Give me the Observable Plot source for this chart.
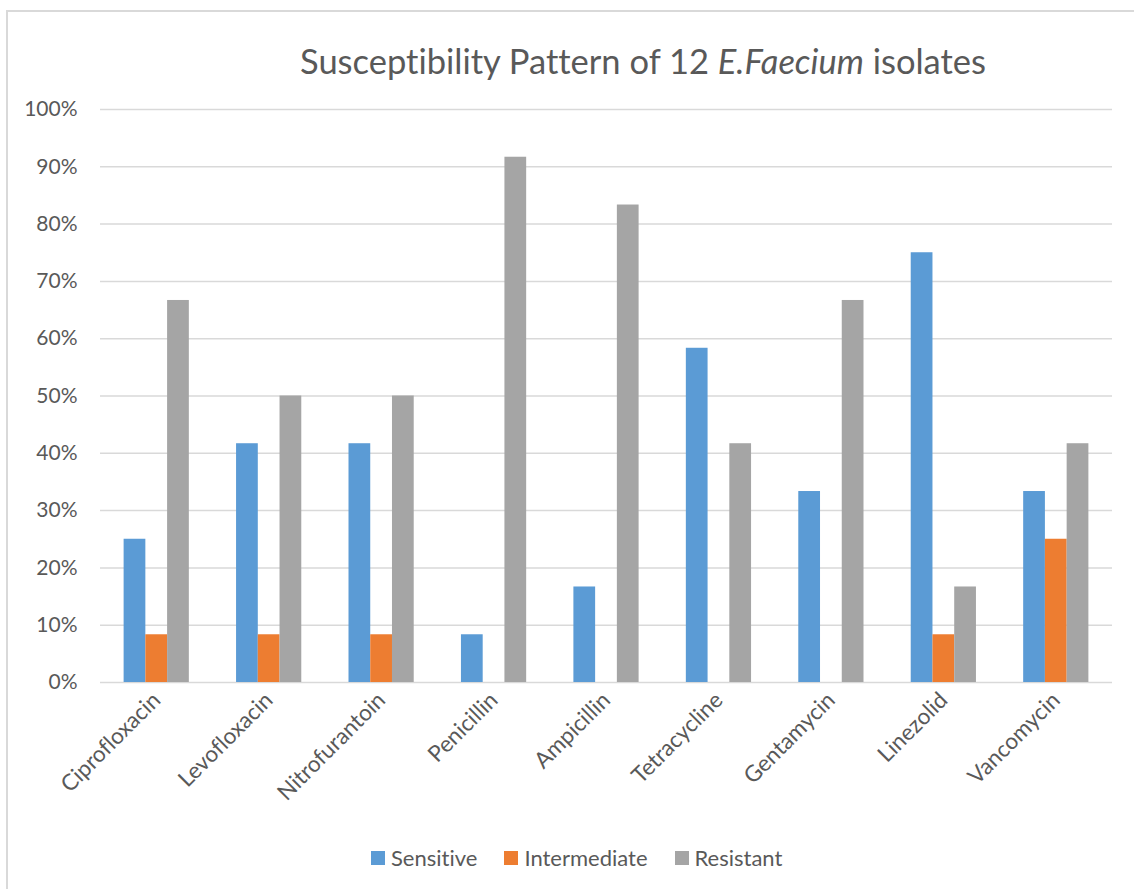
<!DOCTYPE html>
<html>
<head>
<meta charset="utf-8">
<script src="https://cdn.jsdelivr.net/npm/d3@7"></script>
<script src="https://cdn.jsdelivr.net/npm/@observablehq/plot@0.6"></script>
<style>
  html, body { margin: 0; padding: 0; background: #fff; overflow: hidden; }
  #chart { position: relative; width: 1134px; height: 889px; font-family: Lato, "Open Sans", sans-serif; color: #595959; font-variant-ligatures: none; }
  #frame { position: absolute; left: 6px; top: 10px; width: 1200px; height: 950px; border-left: 2px solid #d9d9d9; border-top: 2px solid #d9d9d9; }
  #title { position: absolute; left: 0; width: 1134px; top: 39px; padding-left: 152px; box-sizing: border-box; text-align: center; font-size: 34.5px; line-height: 44px; white-space: nowrap; }
  .layer { position: absolute; left: 0; top: 0; font-variant-ligatures: none; }
  .layer g[aria-label^="x-axis"] { font-size: 22.5px; }
  #legend { position: absolute; left: 371px; top: 844px; display: flex; align-items: center; font-size: 22px; white-space: nowrap; }
  .item { display: flex; align-items: center; margin-right: 27px; }
  .swatch { width: 14px; height: 14px; margin-right: 6px; }
</style>
</head>
<body>
<div id="chart">
  <div id="frame"></div>
  <div id="title">Susceptibility Pattern of 12 <i>E.Faecium</i> isolates</div>
  <div id="legend"></div>
</div>
<script>
// Antibiotics tested, and the share of isolates (%) in each category
const categories = ["Ciprofloxacin", "Levofloxacin", "Nitrofurantoin", "Penicillin", "Ampicillin", "Tetracycline", "Gentamycin", "Linezolid", "Vancomycin"];
const series = ["Sensitive", "Intermediate", "Resistant"];
const sensitive    = [25, 41.67, 41.67, 8.33, 16.67, 58.33, 33.33, 75, 33.33];
const intermediate = [8.33, 8.33, 8.33, 0, 0, 0, 0, 8.33, 25];
const resistant    = [66.67, 50, 50, 91.67, 83.33, 41.67, 66.67, 16.67, 41.67];
const colors = ["#5B9BD5", "#ED7D31", "#A5A5A5"];
const yTicks = [0, 10, 20, 30, 40, 50, 60, 70, 80, 90, 100];

const columns = [sensitive, intermediate, resistant];
const data = categories.flatMap((category, i) =>
  series.map((s, j) => ({category, series: s, value: columns[j][i]}))
);

const W = 1134, H = 820;
const margins = {marginTop: 109, marginBottom: 138, marginLeft: 100, marginRight: 22};
const band = {domain: categories, paddingInner: 0.42, paddingOuter: 0.21, round: false};
const textStyle = {fontFamily: "Lato, 'Open Sans', sans-serif", fontSize: "21px", color: "#595959", background: "transparent", overflow: "visible"};

// Background layer: gridlines and both axes
const axes = Plot.plot({
  width: W, height: H, ...margins,
  style: textStyle,
  x: {...band, tickRotate: -45, tickSize: 0, tickPadding: 14, label: null},
  y: {domain: [0, 100], ticks: yTicks, tickFormat: d => d + "%", tickSize: 0, tickPadding: 23, label: null},
  marks: [
    Plot.ruleY(yTicks, {stroke: "#d9d9d9", strokeWidth: 1.5})
  ]
});

// Foreground layer: grouped bars, one facet per antibiotic
const bars = Plot.plot({
  width: W, height: H, ...margins,
  style: textStyle,
  facet: {data, x: "category"},
  fx: {...band, axis: null, label: null},
  x: {domain: series, padding: 0, round: false, axis: null},
  y: {domain: [0, 100], axis: null},
  color: {domain: series, range: colors},
  marks: [
    Plot.barY(data, {x: "series", y: "value", fill: "series"})
  ]
});

const chart = document.getElementById("chart");
for (const svg of [axes, bars]) {
  svg.classList.add("layer");
  chart.appendChild(svg);
}

const legend = document.getElementById("legend");
series.forEach((s, i) => {
  const item = document.createElement("div");
  item.className = "item";
  const sw = document.createElement("div");
  sw.className = "swatch";
  sw.style.background = colors[i];
  const label = document.createElement("span");
  label.textContent = s;
  item.append(sw, label);
  legend.appendChild(item);
});
</script>
</body>
</html>
